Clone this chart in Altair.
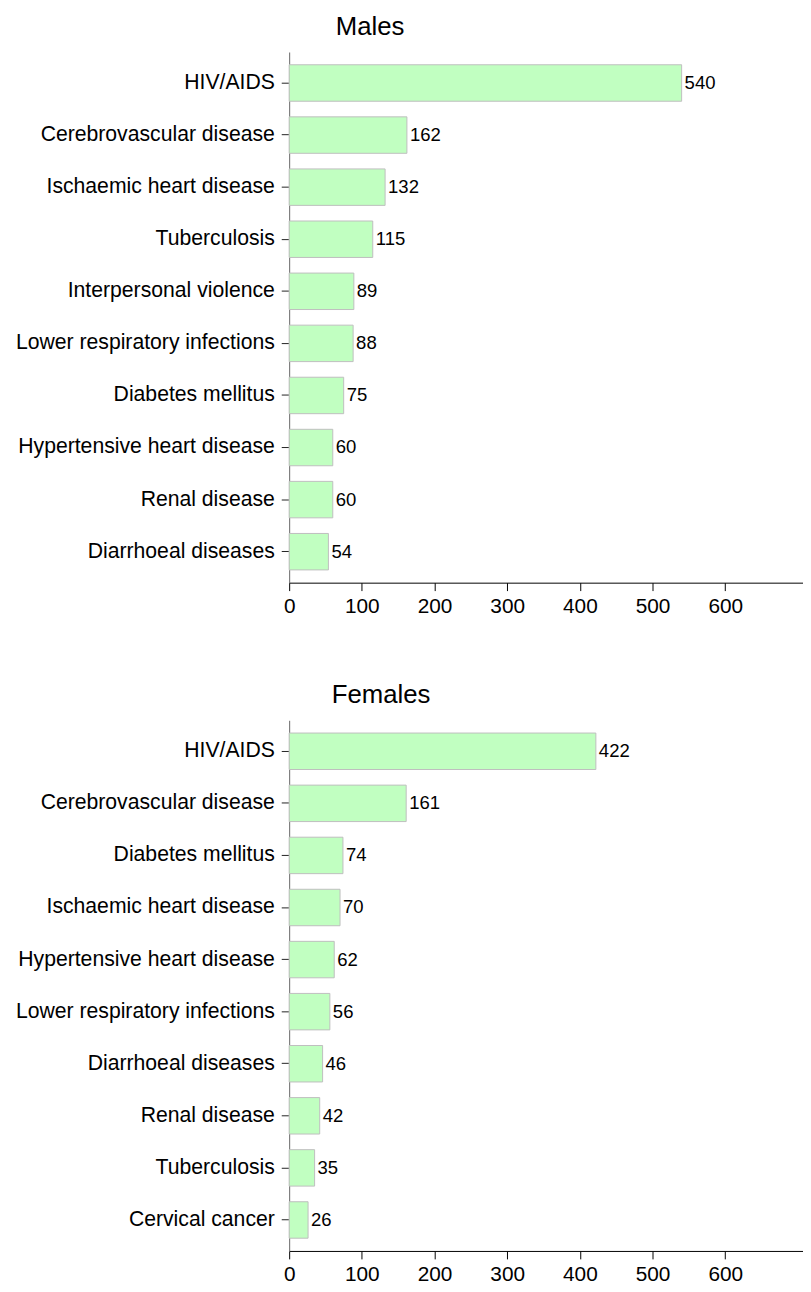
import altair as alt
import pandas as pd

male_causes = [
    "HIV/AIDS", "Cerebrovascular disease", "Ischaemic heart disease", "Tuberculosis",
    "Interpersonal violence", "Lower respiratory infections", "Diabetes mellitus",
    "Hypertensive heart disease", "Renal disease", "Diarrhoeal diseases",
]
male_values = [540, 162, 132, 115, 89, 88, 75, 60, 60, 54]

female_causes = [
    "HIV/AIDS", "Cerebrovascular disease", "Diabetes mellitus", "Ischaemic heart disease",
    "Hypertensive heart disease", "Lower respiratory infections", "Diarrhoeal diseases",
    "Renal disease", "Tuberculosis", "Cervical cancer",
]
female_values = [422, 161, 74, 70, 62, 56, 46, 42, 35, 26]

tick_values = [0, 100, 200, 300, 400, 500, 600]
x_max = 707

FONT = "Liberation Sans"


def panel(causes, values, title, dx):
    df = pd.DataFrame({"cause": causes, "value": values})
    y = alt.Y(
        "cause:N", sort=causes, title=None,
        scale=alt.Scale(paddingInner=0.3, paddingOuter=0.245),
        axis=alt.Axis(domainColor="#666666", tickColor="#222222", tickSize=8,
                      labelFontSize=21.4, labelColor="black", labelPadding=7,
                      labelFont=FONT, labelLimit=400),
    )
    x = alt.X(
        "value:Q", title=None,
        scale=alt.Scale(domain=[0, x_max], nice=False, zero=True),
        axis=alt.Axis(values=tick_values, domainColor="black", tickColor="black",
                      tickSize=8, labelFontSize=21, labelPadding=5, grid=False,
                      labelFlush=False, labelColor="black", labelFont=FONT, format="d"),
    )
    bars = alt.Chart(df).mark_bar(
        fill="#C1FFC1", stroke="#BEBEBE", strokeWidth=1
    ).encode(x=x, y=y)
    text = alt.Chart(df).mark_text(
        align="left", baseline="middle", dx=3, fontSize=18.7, font=FONT, color="black"
    ).encode(
        x=alt.X("value:Q"),
        y=alt.Y("cause:N", sort=causes),
        text=alt.Text("value:Q"),
    )
    return alt.layer(bars, text).properties(
        width=519, height=536,
        title=alt.TitleParams(title, anchor="start", dx=dx, offset=-9, fontSize=26,
                              fontWeight="normal", font=FONT, color="black",
                              baseline="alphabetic", frame="group"),
    )


males = panel(male_causes, male_values, "Males", 47)
females = panel(female_causes, female_values, "Females", 43)

chart = alt.vconcat(males, females, spacing=139, bounds="flush").resolve_scale(
    y="independent", x="independent"
).properties(
    padding={"left": 7, "top": 0, "right": 0, "bottom": 0},
).configure_view(stroke=None)

chart.save("out.html", embed_options={"renderer": "svg", "actions": False})
